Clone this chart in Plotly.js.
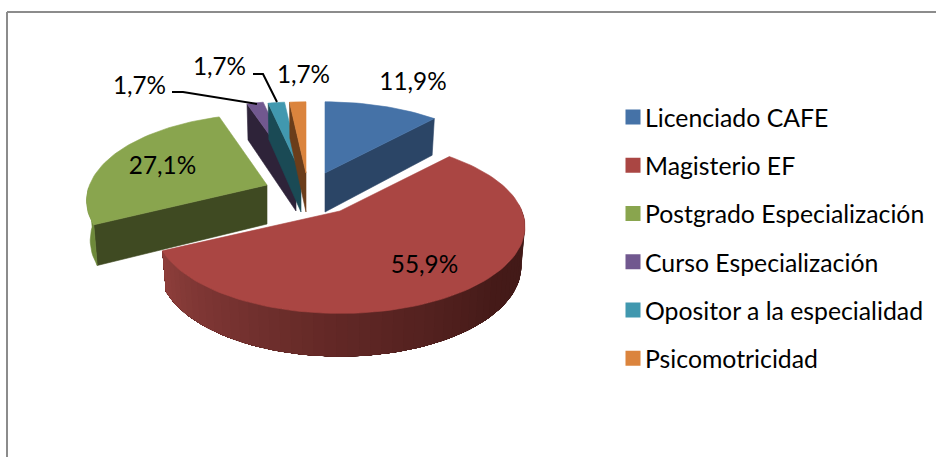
<!DOCTYPE html>
<html>
<head>
<meta charset="utf-8">
<script src="https://cdn.plot.ly/plotly-3.0.1.min.js"></script>
<style>html,body{margin:0;padding:0;background:#fff}#chart{width:936px;height:457px}</style>
</head>
<body>
<div id="chart"></div>
<script>
// ---- data ----
const categories = ['Licenciado CAFE','Magisterio EF','Postgrado Especialización','Curso Especialización','Opositor a la especialidad','Psicomotricidad'];
const percents = [11.9, 55.9, 27.1, 1.7, 1.7, 1.7];

// ---- styles ----
const topColors  = ['#4572a7','#aa4643','#89a54e','#71588f','#4198af','#db843d'];
const wallColors = ['#2b4566','#8a3c3a','#3f4a22','#2e2339','#1a4a55','#6b3d1a'];
const sliceTips  = [[325,173],[340,211],[267,185],[296,172],[301,173],[306,173]];
const sliceScale = [1,1,0.975,1,1,1];
const labelPos   = [[413,84],[424.5,267],[162.5,168],[139.5,88],[219.5,69],[303.5,77]];
const leaderX    = [[172,183,257],[253,263,277]];
const leaderY    = [[92,92,104],[74,74,102]];
const RX = 182, RY = 84, PERSP = 0.18, DEPTH = 39;

// ---- projected pie geometry ----
function rim(i, deg, down) {
  const tip = sliceTips[i];
  const a = deg * Math.PI / 180, p = 1 / (1 + PERSP * Math.cos(a));
  const f = (down ? 0.98 : 1) * sliceScale[i];
  return [tip[0] + RX * f * Math.sin(a) * p,
          tip[1] - RY * Math.cos(a) * p + (down ? DEPTH * Math.sqrt(p) : 0)];
}
function arc(i, a0, a1, down) {
  const pts = [], n = Math.max(2, Math.ceil(Math.abs(a1 - a0) / 2));
  for (let k = 0; k <= n; k++) pts.push(rim(i, a0 + (a1 - a0) * k / n, down));
  return pts;
}
function poly(pts, color) {
  return {type:'scatter', mode:'lines', x:pts.map(p=>p[0]).concat(pts[0][0]), y:pts.map(p=>p[1]).concat(pts[0][1]),
          fill:'toself', fillcolor:color, line:{color:color,width:0.6}, showlegend:false, hoverinfo:'skip'};
}
function mix(c1, c2, t) {
  const h = s => [1,3,5].map(i => parseInt(s.substr(i,2),16));
  const a = h(c1), b = h(c2);
  return 'rgb(' + a.map((v,i)=>Math.round(v + (b[i]-v)*t)).join(',') + ')';
}
const total = percents.reduce((s,v)=>s+v,0);
let cum = 0;
const spans = percents.map(v => { const s = [cum/total*360, (cum+v)/total*360]; cum += v; return s; });

const traces = [];
function cutFace(i, deg) {
  const t = sliceTips[i];
  traces.push(poly([t, rim(i, deg, false), rim(i, deg, true), [t[0], t[1] + DEPTH]], wallColors[i]));
}
function topFace(i) {
  traces.push(poly([sliceTips[i]].concat(arc(i, spans[i][0], spans[i][1], false)), topColors[i]));
}
// green: near cut face and small lit rim
cutFace(2, spans[2][0]);
traces.push(poly(arc(2, spans[2][0], 268, false).concat(arc(2, 268, spans[2][0], true)), '#6e8a3a'));
topFace(2);
// the three thin far slices
[3,4,5].forEach(i => { cutFace(i, spans[i][0]); topFace(i); });
// blue
cutFace(0, spans[0][1]);
topFace(0);
// red: shaded outer wall (each band painted over the previous one, so no seams) then top
const shade = [[244,'#8f3f3c'],[180,'#622826'],[130,'#451a18'],[85,'#3f1a18']];
const redEnd = spans[1][1];
for (let d = 85; d < redEnd; d += 3) {
  let k = 0;
  while (k < shade.length - 2 && d < shade[k+1][0]) k++;
  const t = (shade[k][0] - d) / (shade[k][0] - shade[k+1][0]);
  const c = mix(shade[k][1], shade[k+1][1], Math.min(1,t));
  const tr = poly(arc(1, d, redEnd, false).concat(arc(1, redEnd, d, true)), c);
  tr.line.width = 0;
  traces.push(tr);
}
topFace(1);

// leader lines
leaderX.forEach((lx, i) => traces.push({type:'scatter', mode:'lines', x:lx, y:leaderY[i], line:{color:'#000',width:2}, showlegend:false, hoverinfo:'skip'}));

// data labels
traces.push({type:'scatter', mode:'text', x:labelPos.map(p=>p[0]), y:labelPos.map(p=>p[1]),
  text:percents.map(v=>v.toFixed(1).replace('.',',')+'%'), textposition:'middle center',
  textfont:{family:'Lato, sans-serif', size:24.3, color:'#000'}, showlegend:false, hoverinfo:'skip'});

// legend entries
categories.forEach((c,i) => traces.push({type:'scatter', mode:'markers', x:[null], y:[null], name:c, legendgroup:c,
  marker:{symbol:'square', size:15, color:topColors[i]}, hoverinfo:'skip'}));

const layout = {
  width:936, height:457, margin:{l:0,r:0,t:0,b:0},
  paper_bgcolor:'#fff', plot_bgcolor:'#fff',
  xaxis:{range:[0,936], visible:false, fixedrange:true},
  yaxis:{range:[457,0], visible:false, fixedrange:true},
  legend:{x:605/936, y:1-94.5/457, xanchor:'left', yanchor:'top', font:{family:'Lato, sans-serif', size:24.8, color:'#000'},
          bgcolor:'rgba(0,0,0,0)', tracegroupgap:13, itemsizing:'trace', itemwidth:30, traceorder:'grouped'},
  shapes:[
    {type:'line', xref:'paper', yref:'paper', x0:7/936, x1:1, y0:1-12/457, y1:1-12/457, line:{color:'#8c8c8c',width:2}},
    {type:'line', xref:'paper', yref:'paper', x0:7/936, x1:7/936, y0:0, y1:1-12/457, line:{color:'#8c8c8c',width:2}}
  ]
};
Plotly.newPlot('chart', traces, layout, {displayModeBar:false, staticPlot:true}).then(() => {
  // legend swatches sit closer to their text in the reference
  document.querySelectorAll('.legend .legendsymbols').forEach(g => g.setAttribute('transform','translate(8,0)'));
});
</script>
</body>
</html>
